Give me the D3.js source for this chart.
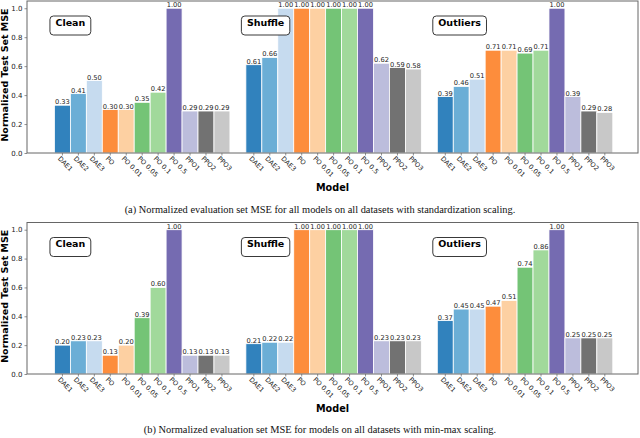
<!DOCTYPE html>
<html>
<head>
<meta charset="utf-8" />
<title>Normalized Test Set MSE</title>
<style>
  body { margin: 0; background: #fff; }
  svg text { font-family: "DejaVu Sans", sans-serif; }
</style>
</head>
<body>
<script src="https://d3js.org/d3.v7.min.js"></script>
<script>
var models = ["DAE1", "DAE2", "DAE3", "PO", "PO 0.01", "PO 0.05", "PO 0.1", "PO 0.5", "PPO1", "PPO2", "PPO3"];
var datasets = ["Clean", "Shuffle", "Outliers"];
var colors = ["#3182bd", "#6baed6", "#c6dbef", "#fd8d3c", "#fdd0a2", "#74c476", "#a1d99b", "#756bb1", "#bcbddc", "#727272", "#c8c8c8"];
var yTicks = [0, 0.2, 0.4, 0.6, 0.8, 1.0];

// (a) standardization scaling
var stdClean    = [0.33, 0.41, 0.50, 0.30, 0.30, 0.35, 0.42, 1.00, 0.29, 0.29, 0.29];
var stdShuffle  = [0.61, 0.66, 1.00, 1.00, 1.00, 1.00, 1.00, 1.00, 0.62, 0.59, 0.58];
var stdOutliers = [0.39, 0.46, 0.51, 0.71, 0.71, 0.69, 0.71, 1.00, 0.39, 0.29, 0.28];

// (b) min-max scaling
var mmClean    = [0.20, 0.23, 0.23, 0.13, 0.20, 0.39, 0.60, 1.00, 0.13, 0.13, 0.13];
var mmShuffle  = [0.21, 0.22, 0.22, 1.00, 1.00, 1.00, 1.00, 1.00, 0.23, 0.23, 0.23];
var mmOutliers = [0.37, 0.45, 0.45, 0.47, 0.51, 0.74, 0.86, 1.00, 0.25, 0.25, 0.25];

var captionA = "(a) Normalized evaluation set MSE for all models on all datasets with standardization scaling.";
var captionB = "(b) Normalized evaluation set MSE for models on all datasets with min-max scaling.";

var width = 640, height = 438;
var svg = d3.select("body").append("svg")
    .attr("width", width)
    .attr("height", height);

var left = 27, right = 638;
var groupSize = models.length + 1;
var x = d3.scaleLinear()
    .domain([-1.72, 36.58])
    .range([left, right]);

function drawPanel(top, bottom, series, caption, captionY) {
    var g = svg.append("g");
    var y = d3.scaleLinear().domain([0, 1.05]).range([bottom, top]);

    var rows = [];
    series.forEach(function(vals, gi) {
        vals.forEach(function(v, i) {
            rows.push({slot: gi * groupSize + i, value: v, model: models[i], color: colors[i]});
        });
    });

    g.selectAll("rect.bar")
        .data(rows)
        .enter().append("rect")
        .attr("class", "bar")
        .attr("x", d => x(d.slot))
        .attr("width", x(1) - x(0))
        .attr("y", d => y(d.value))
        .attr("height", d => y(0) - y(d.value))
        .attr("fill", d => d.color)
        .attr("stroke", "#fff")
        .attr("stroke-width", 0.8);

    g.selectAll("text.val")
        .data(rows)
        .enter().append("text")
        .attr("class", "val")
        .attr("x", d => x(d.slot + 0.5))
        .attr("y", d => y(d.value) - 1)
        .attr("text-anchor", "middle")
        .style("font-size", "6.7px")
        .attr("fill", "#222")
        .text(d => d.value.toFixed(2));

    // x tick labels
    g.selectAll("text.xl")
        .data(rows)
        .enter().append("text")
        .attr("class", "xl")
        .attr("transform", d => "translate(" + (x(d.slot + 0.5) - 5) + "," + (bottom + 6) + ") rotate(45)")
        .style("font-size", "6.6px")
        .attr("fill", "#222")
        .text(d => d.model);

    g.selectAll("line.xt")
        .data(rows)
        .enter().append("line")
        .attr("class", "xt")
        .attr("x1", d => x(d.slot + 0.5))
        .attr("x2", d => x(d.slot + 0.5))
        .attr("y1", bottom)
        .attr("y2", bottom + 2.5)
        .attr("stroke", "#444")
        .attr("stroke-width", 0.6);

    // y axis
    var yAxis = g.append("g")
        .attr("transform", "translate(" + left + ",0)")
        .call(d3.axisLeft(y).tickValues(yTicks).tickFormat(d3.format(".1f")).tickSize(2.5).tickPadding(2));
    yAxis.select(".domain").remove();
    yAxis.selectAll("line").attr("stroke", "#444").attr("stroke-width", 0.6);
    yAxis.selectAll("text")
        .style("font-size", "7px")
        .style("font-family", "DejaVu Sans, sans-serif")
        .attr("fill", "#222");

    // frame
    g.append("rect")
        .attr("x", left)
        .attr("y", top)
        .attr("width", right - left)
        .attr("height", bottom - top)
        .attr("fill", "none")
        .attr("stroke", "#666")
        .attr("stroke-width", 1);

    // dataset boxes
    datasets.forEach(function(name, gi) {
        var bx = x(gi * groupSize) - 4.5;
        var label = g.append("text")
            .attr("x", 0)
            .attr("y", top + 24.5)
            .style("font-size", "9.5px")
            .style("font-weight", "bold")
            .attr("fill", "#000")
            .text(name);
        var w = label.node().getComputedTextLength() + 11;
        label.attr("x", bx + w / 2).attr("text-anchor", "middle");
        g.insert("rect", "text")
            .attr("x", bx)
            .attr("y", top + 15)
            .attr("width", w)
            .attr("height", 19)
            .attr("rx", 3.5)
            .attr("fill", "#fff")
            .attr("stroke", "#222")
            .attr("stroke-width", 0.9);
    });

    // axis titles
    g.append("text")
        .attr("transform", "translate(8," + ((top + bottom) / 2 - 2) + ") rotate(-90)")
        .attr("text-anchor", "middle")
        .style("font-size", "9.5px")
        .style("font-weight", "bold")
        .text("Normalized Test Set MSE");

    g.append("text")
        .attr("x", (left + right) / 2)
        .attr("y", bottom + 38)
        .attr("text-anchor", "middle")
        .style("font-size", "9.7px")
        .style("font-weight", "bold")
        .text("Model");

    svg.append("text")
        .attr("x", 320)
        .attr("y", captionY)
        .attr("text-anchor", "middle")
        .style("font-family", "Liberation Serif, serif")
        .style("font-size", "10.4px")
        .attr("fill", "#111")
        .text(caption);
}

drawPanel(1, 153, [stdClean, stdShuffle, stdOutliers], captionA, 213);
drawPanel(222.5, 374, [mmClean, mmShuffle, mmOutliers], captionB, 433);
</script>
</body>
</html>
